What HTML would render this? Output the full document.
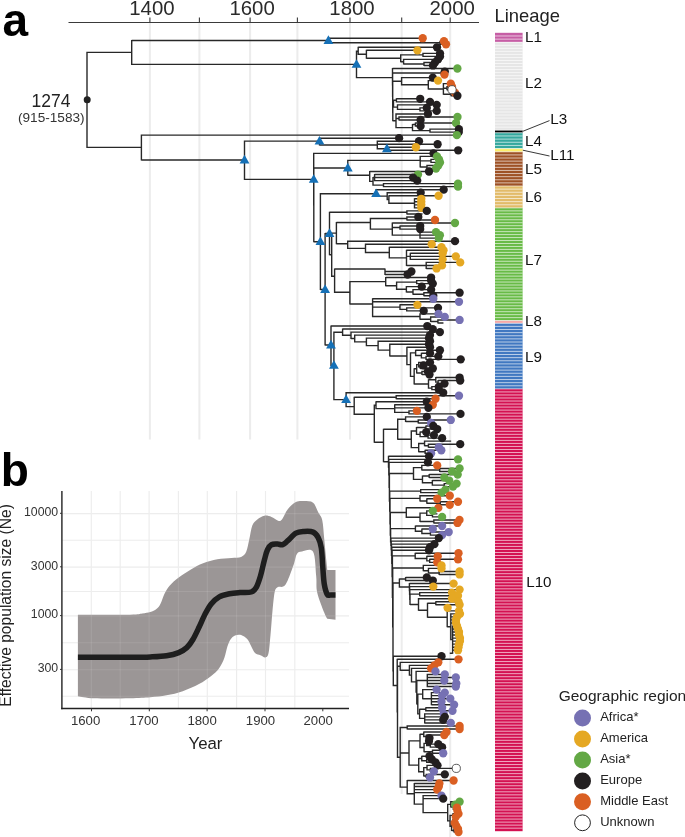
<!DOCTYPE html>
<html><head><meta charset="utf-8"><style>html,body{margin:0;padding:0;background:#fff;width:685px;height:837px;overflow:hidden}</style></head>
<body>
<svg width="685" height="837" viewBox="0 0 685 837" style="display:block;will-change:transform">
<rect width="685" height="837" fill="#fff"/>
<line x1="149.9" y1="23" x2="149.9" y2="439.5" stroke="#ececec" stroke-width="2"/>
<line x1="199.4" y1="23" x2="199.4" y2="439.5" stroke="#ececec" stroke-width="2"/>
<line x1="250.1" y1="23" x2="250.1" y2="439.5" stroke="#ececec" stroke-width="2"/>
<line x1="297.4" y1="23" x2="297.4" y2="439.5" stroke="#ececec" stroke-width="2"/>
<line x1="350" y1="23" x2="350" y2="439.5" stroke="#ececec" stroke-width="2"/>
<line x1="401.7" y1="23" x2="401.7" y2="794" stroke="#ececec" stroke-width="2"/>
<line x1="450.2" y1="23" x2="450.2" y2="837" stroke="#ececec" stroke-width="2"/>
<line x1="68.5" y1="22.5" x2="479" y2="22.5" stroke="#3a3a3a" stroke-width="1.2"/>
<line x1="149.9" y1="17.6" x2="149.9" y2="22.5" stroke="#3a3a3a" stroke-width="1.1"/>
<line x1="199.4" y1="17.6" x2="199.4" y2="22.5" stroke="#3a3a3a" stroke-width="1.1"/>
<line x1="250.1" y1="17.6" x2="250.1" y2="22.5" stroke="#3a3a3a" stroke-width="1.1"/>
<line x1="297.4" y1="17.6" x2="297.4" y2="22.5" stroke="#3a3a3a" stroke-width="1.1"/>
<line x1="350" y1="17.6" x2="350" y2="22.5" stroke="#3a3a3a" stroke-width="1.1"/>
<line x1="401.7" y1="17.6" x2="401.7" y2="22.5" stroke="#3a3a3a" stroke-width="1.1"/>
<line x1="450.2" y1="17.6" x2="450.2" y2="22.5" stroke="#3a3a3a" stroke-width="1.1"/>
<text x="151.9" y="14.9" font-family="'Liberation Sans', sans-serif" font-size="20.4" fill="#2a2a2a" text-anchor="middle">1400</text>
<text x="252.1" y="14.9" font-family="'Liberation Sans', sans-serif" font-size="20.4" fill="#2a2a2a" text-anchor="middle">1600</text>
<text x="352.0" y="14.9" font-family="'Liberation Sans', sans-serif" font-size="20.4" fill="#2a2a2a" text-anchor="middle">1800</text>
<text x="452.2" y="14.9" font-family="'Liberation Sans', sans-serif" font-size="20.4" fill="#2a2a2a" text-anchor="middle">2000</text>
<text x="2.5" y="35.5" font-family="'Liberation Sans', sans-serif" font-size="46" font-weight="bold" fill="#000">a</text>
<path d="M87.00 51.80V148.00M87.00 52.40H131.70M131.70 39.90V65.00M131.70 40.50H328.40M328.40 37.60V43.34M328.40 38.20H422.70M328.40 42.74H440.00M440.00 40.63V44.86M440.00 41.23H444.00M440.00 44.26H446.00M131.70 64.40H356.50M356.50 50.60V78.20M356.50 51.20H358.20M358.20 46.69V54.90M358.20 47.29H437.00M358.20 54.30H366.40M366.40 49.72V58.87M366.40 50.32H417.40M366.40 58.27H400.70M400.70 54.26V62.28M400.70 54.86H423.00M423.00 52.75V56.98M423.00 53.35H440.00M423.00 56.38H440.00M400.70 61.68H403.60M403.60 58.81V64.55M403.60 59.41H438.00M403.60 63.95H424.00M424.00 61.84V66.07M424.00 62.44H435.00M424.00 65.47H433.00M356.50 77.60H392.50M392.50 67.90V85.48M392.50 68.50H457.40M392.50 84.88H392.60M392.60 72.44V97.31M392.60 73.04H441.40M441.40 70.93V75.16M441.40 71.53H444.80M441.40 74.56H444.50M392.60 96.71H392.70M392.70 80.58V112.84M392.70 81.18H401.60M401.60 76.99V85.38M401.60 77.59H432.80M401.60 84.78H428.30M428.30 80.02V89.55M428.30 80.62H438.00M428.30 88.95H443.40M443.40 83.05V94.85M443.40 83.65H450.80M443.40 88.19H447.00M447.00 86.08V90.31M447.00 86.68H452.00M447.00 89.71H452.00M443.40 94.25H451.00M451.00 92.14V96.37M451.00 92.74H455.00M451.00 95.77H457.40M392.70 112.24H392.80M392.80 103.12V121.36M392.80 103.72H393.50M393.50 99.71V107.73M393.50 100.31H396.40M396.40 98.20V102.43M396.40 98.80H420.20M396.40 101.83H430.00M393.50 107.13H397.50M397.50 104.25V110.00M397.50 104.85H436.70M397.50 109.40H420.00M420.00 107.28V111.51M420.00 107.88H426.80M420.00 110.91H436.70M392.80 120.76H396.00M396.00 113.34V128.18M396.00 113.94H428.00M396.00 118.49H399.00M399.00 116.37V120.60M399.00 116.97H457.50M399.00 120.00H420.60M396.00 127.58H412.50M412.50 123.95V131.21M412.50 124.55H415.40M415.40 122.43V126.66M415.40 123.03H456.00M415.40 126.06H420.60M412.50 130.61H430.00M430.00 128.49V132.72M430.00 129.09H458.90M430.00 132.12H458.80M87.00 147.40H141.40M141.40 134.55V160.60M141.40 135.15H456.90M141.40 160.00H244.50M244.50 140.50V180.00M244.50 141.10H319.50M319.50 137.58V145.61M319.50 138.18H399.10M319.50 145.01H377.30M377.30 140.61V149.40M377.30 141.21H419.00M377.30 144.24H437.60M377.30 148.80H386.90M386.90 146.67V150.90M386.90 147.27H415.90M386.90 150.30H458.20M244.50 179.40H313.70M313.70 152.73V205.45M313.70 153.33H433.50M313.70 204.85H313.80M313.80 167.40V242.30M313.80 168.00H347.80M347.80 159.80V175.80M347.80 160.40H420.20M420.20 155.76V167.57M420.20 156.36H437.00M420.20 160.91H431.00M431.00 158.79V163.02M431.00 159.39H439.00M431.00 162.42H440.00M420.20 166.97H427.00M427.00 164.85V169.08M427.00 165.45H438.30M427.00 168.48H436.00M347.80 175.20H369.70M369.70 170.91V181.96M369.70 171.51H429.00M369.70 181.36H373.00M373.00 176.97V185.74M373.00 177.57H374.60M374.60 173.94V181.20M374.60 174.54H418.00M374.60 177.57H413.10M374.60 180.60H417.20M373.00 185.14H383.50M383.50 183.03V187.26M383.50 183.63H458.00M383.50 186.66H458.00M313.80 241.70H320.40M320.40 193.10V290.10M320.40 193.70H376.10M376.10 189.09V196.73M376.10 189.69H443.70M376.10 196.13H387.20M387.20 192.12V200.14M387.20 192.72H420.70M387.20 199.54H388.90M388.90 195.15V203.92M388.90 195.75H438.60M388.90 203.32H414.50M414.50 198.18V208.47M414.50 198.78H421.30M414.50 201.81H421.30M414.50 204.84H421.30M414.50 207.87H421.30M320.40 289.50H325.10M325.10 232.90V345.60M325.10 233.50H329.50M329.50 211.70V255.30M329.50 212.30H406.90M406.90 210.30V214.53M406.90 210.90H426.80M406.90 213.93H422.55M329.50 254.70H331.70M331.70 232.50V276.90M331.70 233.10H336.40M336.40 221.90V244.30M336.40 222.50H370.40M370.40 217.87V229.68M370.40 218.47H406.90M406.90 216.36V220.59M406.90 216.96H418.30M406.90 219.99H435.00M370.40 229.08H392.30M392.30 222.42V235.74M392.30 223.02H455.00M392.30 227.56H400.00M400.00 225.45V229.68M400.00 226.05H420.20M400.00 229.08H420.20M392.30 235.14H420.00M420.00 231.51V238.76M420.00 232.11H436.00M420.00 235.14H439.90M420.00 238.16H438.80M336.40 243.70H347.70M347.70 240.59V248.99M347.70 241.19H455.00M347.70 248.39H365.50M365.50 243.62V253.16M365.50 244.22H431.70M365.50 252.56H389.30M389.30 246.65V258.46M389.30 247.25H441.50M389.30 257.86H406.50M406.50 249.68V266.03M406.50 250.28H443.50M406.50 256.34H410.30M410.30 252.71V259.97M410.30 253.31H442.60M410.30 256.34H455.80M410.30 259.37H442.60M406.50 265.43H426.20M426.20 261.80V269.06M426.20 262.40H460.20M426.20 265.43H442.00M426.20 268.46H436.60M331.70 276.30H334.60M334.60 268.40V292.90M334.60 269.00H385.00M385.00 268.40V275.12M385.00 271.49H411.40M385.00 274.52H407.60M334.60 292.30H349.90M349.90 281.02V304.60M349.90 281.62H385.70M385.70 276.95V286.29M385.70 277.55H431.10M385.70 285.69H396.60M396.60 281.50V289.89M396.60 282.10H416.67M416.67 279.98V284.21M416.67 280.58H431.10M416.67 283.61H432.80M396.60 289.29H406.38M406.38 286.04V292.54M406.38 286.64H421.80M406.38 291.94H412.98M412.98 289.07V294.82M412.98 289.67H431.10M412.98 294.22H423.90M423.90 292.10V296.33M423.90 292.70H459.60M423.90 295.73H433.30M349.90 304.00H372.60M372.60 298.16V317.16M372.60 298.76H433.30M372.60 301.79H459.00M372.60 307.09H400.00M400.00 304.22V309.96M400.00 304.82H417.40M400.00 309.36H406.71M406.71 307.25V311.48M406.71 307.85H438.00M406.71 310.88H423.70M372.60 316.56H420.00M420.00 313.31V319.81M420.00 313.91H438.50M420.00 319.21H430.65M430.65 316.34V322.08M430.65 316.94H444.80M430.65 321.48H437.92M437.92 319.37V323.60M437.92 319.97H459.60M437.92 323.00H443.45M325.10 345.00H331.00M331.00 325.43V366.00M331.00 326.03H427.30M331.00 365.40H333.90M333.90 331.58V400.20M333.90 332.18H342.60M342.60 328.46V335.90M342.60 329.06H432.80M342.60 335.30H351.00M351.00 331.49V339.10M351.00 332.09H439.90M351.00 338.50H354.70M354.70 334.52V342.49M354.70 335.12H430.00M354.70 341.89H366.40M366.40 337.55V346.23M366.40 338.15H429.00M366.40 345.63H378.10M378.10 340.58V350.68M378.10 341.18H430.00M378.10 350.08H389.80M389.80 343.61V356.55M389.80 344.21H429.00M389.80 355.95H406.90M406.90 346.64V365.26M406.90 347.24H430.00M406.90 364.66H410.50M410.50 352.32V377.00M410.50 352.92H415.63M415.63 349.67V356.17M415.63 350.27H439.90M415.63 355.57H421.40M421.40 352.70V358.44M421.40 353.30H430.00M421.40 357.84H426.04M426.04 355.73V359.96M426.04 356.33H438.30M426.04 359.36H460.70M410.50 376.40H414.16M414.16 368.22V384.57M414.16 368.82H416.69M416.69 364.06V373.59M416.69 364.66H418.69M418.69 361.79V367.53M418.69 362.39H430.00M418.69 366.93H420.27M420.27 364.82V369.05M420.27 365.42H423.50M420.27 368.45H432.80M416.69 372.99H421.95M421.95 370.87V375.10M421.95 371.47H427.90M421.95 374.50H429.50M414.16 383.97H428.49M428.49 379.21V388.74M428.49 379.81H435.78M435.78 376.93V382.68M435.78 377.53H459.60M435.78 382.08H438.11M438.11 379.96V384.19M438.11 380.56H460.20M438.11 383.59H444.50M428.49 388.14H431.87M431.87 386.02V390.25M431.87 386.62H438.80M431.87 389.65H438.80M333.90 399.60H346.10M346.10 392.08V407.20M346.10 392.68H443.20M346.10 406.60H354.20M354.20 396.63V414.90M354.20 397.23H396.20M396.20 395.11V399.34M396.20 395.71H459.00M396.20 398.74H435.50M354.20 414.30H374.30M374.30 404.58V442.80M374.30 405.18H376.00M376.00 401.17V409.19M376.00 401.77H426.80M376.00 408.59H394.70M394.70 404.20V412.98M394.70 404.80H432.80M394.70 407.83H428.40M394.70 412.38H409.00M409.00 410.26V414.49M409.00 410.86H416.90M409.00 413.89H460.50M374.30 442.20H383.50M383.50 428.63V462.30M383.50 429.23H397.70M397.70 418.59V439.87M397.70 419.19H405.59M405.59 416.32V422.07M405.59 416.92H426.80M405.59 421.47H418.23M418.23 419.35V423.58M418.23 419.95H450.80M418.23 422.98H431.10M397.70 439.27H411.28M411.28 430.33V448.20M411.28 430.93H416.50M416.50 426.93V434.94M416.50 427.53H425.91M425.91 425.41V429.64M425.91 426.01H433.30M425.91 429.04H437.20M416.50 434.34H420.10M420.10 431.47V437.21M420.10 432.07H426.20M420.10 436.61H428.09M428.09 434.50V438.73M428.09 435.10H433.90M428.09 438.13H442.10M411.28 447.60H418.70M418.70 442.83V452.36M418.70 443.43H424.55M424.55 440.56V446.30M424.55 441.16H451.15M424.55 445.70H428.41M428.41 443.59V447.82M428.41 444.19H460.20M428.41 447.22H438.80M418.70 451.76H425.13M425.13 449.65V453.88M425.13 450.25H441.30M425.13 453.28H431.10M383.50 461.70H388.50M388.50 455.71V467.70M388.50 456.31H429.00M388.50 467.10H388.80M388.80 458.74V475.45M388.80 459.34H458.00M388.80 474.85H389.10M389.10 461.77V487.94M389.10 462.37H427.90M389.10 487.34H389.40M389.40 472.94V501.73M389.40 473.54H413.50M413.50 467.07V480.01M413.50 467.67H421.81M421.81 464.80V470.54M421.81 465.40H437.20M421.81 469.94H439.72M439.72 467.83V472.06M439.72 468.43H459.60M439.72 471.46H452.00M413.50 479.41H422.47M422.47 475.40V483.42M422.47 476.00H429.19M429.19 473.89V478.12M429.19 474.49H457.70M429.19 477.52H444.30M422.47 482.82H432.35M432.35 479.95V485.69M432.35 480.55H449.20M432.35 485.09H444.26M444.26 482.98V487.21M444.26 483.58H456.60M444.26 486.61H453.00M389.40 501.13H389.70M389.70 490.55V511.71M389.70 491.15H420.70M420.70 489.04V493.27M420.70 489.64H445.40M420.70 492.67H441.50M389.70 511.11H390.00M390.00 497.75V524.48M390.00 498.35H420.00M420.00 495.10V501.60M420.00 495.70H449.80M420.00 501.00H426.84M426.84 498.13V503.87M426.84 498.73H437.20M426.84 503.27H440.31M440.31 501.15V505.38M440.31 501.75H458.00M440.31 504.78H449.80M390.00 523.88H390.30M390.30 511.95V535.81M390.30 512.55H406.30M406.30 507.21V517.88M406.30 507.81H438.30M406.30 517.28H420.02M420.02 512.52V522.05M420.02 513.12H426.74M426.74 510.24V515.99M426.74 510.84H432.80M426.74 515.39H432.49M432.49 513.27V517.50M432.49 513.87H437.45M432.49 516.90H442.10M420.02 521.45H433.85M433.85 519.33V523.56M433.85 519.93H459.50M433.85 522.96H457.50M390.30 535.21H390.60M390.60 528.04V542.38M390.60 528.64H415.40M415.40 525.39V531.90M415.40 525.99H442.10M415.40 531.30H421.88M421.88 528.42V534.17M421.88 529.02H432.80M421.88 533.57H430.45M430.45 531.45V535.68M430.45 532.05H448.70M430.45 535.08H442.10M390.60 541.78H390.90M390.90 537.51V546.05M390.90 538.11H438.80M390.90 545.45H391.20M391.20 540.54V550.35M391.20 541.14H436.60M391.20 549.75H391.50M391.50 543.57V555.94M391.50 544.17H434.40M391.50 555.34H391.80M391.80 546.60V564.07M391.80 547.20H430.00M391.80 563.47H392.10M392.10 549.63V577.31M392.10 550.23H429.00M392.10 576.71H392.40M392.40 555.31V598.10M392.40 555.91H415.20M415.20 552.66V559.16M415.20 553.26H458.50M415.20 558.56H426.84M426.84 555.69V561.44M426.84 556.29H437.70M426.84 560.84H429.68M429.68 558.72V562.95M429.68 559.32H458.00M429.68 562.35H437.20M392.40 597.50H392.70M392.70 567.43V627.57M392.70 568.03H423.30M423.30 564.78V571.28M423.30 565.38H441.50M423.30 570.68H428.45M428.45 567.81V573.55M428.45 568.41H441.50M428.45 572.95H439.18M439.18 570.84V575.07M439.18 571.44H459.60M439.18 574.47H459.60M392.70 626.97H393.00M393.00 582.43V671.51M393.00 583.03H399.40M399.40 578.41V587.64M399.40 579.01H405.60M405.60 576.90V581.13M405.60 577.50H426.80M405.60 580.53H432.80M399.40 587.04H409.40M409.40 582.96V591.13M409.40 583.56H453.60M409.40 590.53H409.60M409.60 585.99V595.07M409.60 586.59H433.30M409.60 594.47H409.80M409.80 589.02V599.92M409.80 589.62H459.60M409.80 599.32H410.00M410.00 593.56V605.08M410.00 594.16H419.70M419.70 592.05V596.28M419.70 592.65H452.00M419.70 595.68H458.00M410.00 604.48H418.50M418.50 598.11V610.86M418.50 598.71H452.00M418.50 610.26H427.50M427.50 602.65V617.86M427.50 603.25H435.80M435.80 601.14V605.37M435.80 601.74H458.50M435.80 604.77H459.60M427.50 617.26H447.20M447.20 607.20V627.33M447.20 607.80H447.60M447.20 610.83H459.00M447.20 626.73H450.80M450.80 613.26V640.21M450.80 613.86H460.00M450.80 616.89H457.00M450.80 619.92H456.00M450.80 622.95H456.00M450.80 639.61H452.60M452.60 625.38V653.84M452.60 625.98H457.00M452.60 629.01H458.00M452.60 632.04H459.00M452.60 635.06H459.00M452.60 638.09H460.00M452.60 641.12H460.00M452.60 644.15H459.00M452.60 647.18H458.50M452.60 650.21H458.00M452.60 653.24H449.75M393.00 670.91H393.30M393.30 655.67V686.15M393.30 656.27H441.50M393.30 685.55H397.20M397.20 658.70V712.40M397.20 659.30H458.50M397.20 711.80H397.50M397.50 665.69V757.91M397.50 666.29H400.20M400.20 661.73V670.84M400.20 662.33H438.30M400.20 670.24H409.40M409.40 664.76V675.71M409.40 665.36H434.40M409.40 675.11H411.50M411.50 667.79V682.44M411.50 668.39H431.10M411.50 681.84H416.10M416.10 670.82V692.85M416.10 671.42H435.50M416.10 692.25H416.80M416.80 679.91V704.59M416.80 680.51H427.30M427.30 673.85V687.17M427.30 674.45H444.80M427.30 677.48H455.80M427.30 680.51H444.30M427.30 683.54H456.30M427.30 686.57H455.80M416.80 703.99H417.80M417.80 693.55V714.44M417.80 694.15H422.70M422.70 689.00V699.29M422.70 689.60H436.60M422.70 698.69H431.40M431.40 692.03V705.35M431.40 692.63H444.80M431.40 695.66H442.10M431.40 698.69H450.30M431.40 701.72H441.50M431.40 704.75H454.10M417.80 713.84H419.60M419.60 708.69V718.98M419.60 709.29H425.80M425.80 707.18V711.41M425.80 707.78H442.10M425.80 710.81H452.50M419.60 718.38H424.70M424.70 713.24V723.53M424.70 713.84H443.70M424.70 716.87H444.80M424.70 719.90H443.20M424.70 722.93H450.80M397.50 757.31H400.20M400.20 726.87V787.76M400.20 727.47H407.20M407.20 725.36V729.59M407.20 725.96H459.60M407.20 728.99H459.60M400.20 753.04H409.00M409.00 740.32V765.76M409.00 740.92H420.01M420.01 733.69V748.15M420.01 734.29H423.77M423.77 731.42V737.16M423.77 732.02H446.50M423.77 736.56H426.29M426.29 734.45V738.68M426.29 735.05H444.30M426.29 738.08H429.50M420.01 747.55H424.05M424.05 742.78V752.31M424.05 743.38H426.70M426.70 740.51V746.25M426.70 741.11H429.00M426.70 745.65H430.34M430.34 743.54V747.77M430.34 744.14H438.30M430.34 747.17H442.10M424.05 751.71H432.49M432.49 749.60V753.83M432.49 750.20H442.65M432.49 753.23H443.20M409.00 765.16H418.71M418.71 757.93V772.38M418.71 758.53H421.77M421.77 755.66V761.40M421.77 756.26H429.50M421.77 760.80H426.73M426.73 758.69V762.92M426.73 759.29H431.70M426.73 762.32H435.50M418.71 771.78H423.76M423.76 767.02V776.55M423.76 767.62H427.03M427.03 764.75V770.49M427.03 765.35H437.50M427.03 769.89H430.38M430.38 767.77V772.00M430.38 768.37H456.30M430.38 771.40H433.90M423.76 775.95H426.26M426.26 773.83V778.06M426.26 774.43H444.80M426.26 777.46H430.00M400.20 787.16H407.20M407.20 779.89V794.42M407.20 780.49H453.60M407.20 793.82H414.30M414.30 782.92V804.72M414.30 783.52H439.40M414.30 786.55H438.80M414.30 789.58H437.20M414.30 792.61H439.35M414.30 804.12H423.10M423.10 795.04V813.19M423.10 795.64H441.50M423.10 798.67H443.20M423.10 812.59H447.70M447.70 803.75V821.43M447.70 804.35H450.80M450.80 801.10V807.60M450.80 801.70H459.60M450.80 807.00H453.32M453.32 804.13V809.88M453.32 804.73H455.20M453.32 809.28H454.67M454.67 807.16V811.39M454.67 807.76H456.90M454.67 810.79H457.40M447.70 820.83H450.06M450.06 814.74V826.92M450.06 815.34H452.90M452.90 813.22V817.45M452.90 813.82H458.50M452.90 816.85H455.80M450.06 826.32H451.62M451.62 821.55V831.09M451.62 822.15H452.71M452.71 819.28V825.03M452.71 819.88H455.25M452.71 824.43H453.71M453.71 822.31V826.54M453.71 822.91H454.70M453.71 825.94H456.30M451.62 830.49H453.98M453.98 828.37V832.60M453.98 828.97H458.00M453.98 832.00H458.50" stroke="#282828" stroke-width="1.4" fill="none"/>
<circle cx="87.2" cy="99.7" r="3.5" fill="#222"/>
<text x="51" y="106.6" font-family="'Liberation Sans', sans-serif" font-size="17.5" fill="#222" text-anchor="middle">1274</text>
<text x="51.3" y="121.8" font-family="'Liberation Sans', sans-serif" font-size="13.6" fill="#333" text-anchor="middle">(915-1583)</text>
<path d="M328.40 35.30L333.30 43.90L323.50 43.90Z" fill="#1570b6"/>
<path d="M356.50 59.20L361.40 67.80L351.60 67.80Z" fill="#1570b6"/>
<path d="M244.50 154.80L249.40 163.40L239.60 163.40Z" fill="#1570b6"/>
<path d="M319.50 135.90L324.40 144.50L314.60 144.50Z" fill="#1570b6"/>
<path d="M386.90 143.60L391.80 152.20L382.00 152.20Z" fill="#1570b6"/>
<path d="M313.70 174.20L318.60 182.80L308.80 182.80Z" fill="#1570b6"/>
<path d="M347.80 162.80L352.70 171.40L342.90 171.40Z" fill="#1570b6"/>
<path d="M320.40 236.50L325.30 245.10L315.50 245.10Z" fill="#1570b6"/>
<path d="M376.10 188.50L381.00 197.10L371.20 197.10Z" fill="#1570b6"/>
<path d="M325.10 284.30L330.00 292.90L320.20 292.90Z" fill="#1570b6"/>
<path d="M329.50 228.30L334.40 236.90L324.60 236.90Z" fill="#1570b6"/>
<path d="M331.00 339.80L335.90 348.40L326.10 348.40Z" fill="#1570b6"/>
<path d="M333.90 360.20L338.80 368.80L329.00 368.80Z" fill="#1570b6"/>
<path d="M346.10 394.40L351.00 403.00L341.20 403.00Z" fill="#1570b6"/>
<circle cx="422.70" cy="38.20" r="4.15" fill="#da5f22"/>
<circle cx="444.00" cy="41.23" r="4.15" fill="#da5f22"/>
<circle cx="446.00" cy="44.26" r="4.15" fill="#da5f22"/>
<circle cx="437.00" cy="47.29" r="4.15" fill="#231f20"/>
<circle cx="417.40" cy="50.32" r="4.15" fill="#e5a823"/>
<circle cx="440.00" cy="53.35" r="4.15" fill="#231f20"/>
<circle cx="440.00" cy="56.38" r="4.15" fill="#231f20"/>
<circle cx="438.00" cy="59.41" r="4.15" fill="#231f20"/>
<circle cx="435.00" cy="62.44" r="4.15" fill="#231f20"/>
<circle cx="433.00" cy="65.47" r="4.15" fill="#231f20"/>
<circle cx="457.40" cy="68.50" r="4.15" fill="#63a845"/>
<circle cx="444.80" cy="71.53" r="4.15" fill="#231f20"/>
<circle cx="444.50" cy="74.56" r="4.15" fill="#da5f22"/>
<circle cx="432.80" cy="77.59" r="4.15" fill="#231f20"/>
<circle cx="438.00" cy="80.62" r="4.15" fill="#e5a823"/>
<circle cx="450.80" cy="83.65" r="4.15" fill="#da5f22"/>
<circle cx="452.00" cy="86.68" r="4.15" fill="#da5f22"/>
<circle cx="455.00" cy="92.74" r="4.15" fill="#da5f22"/>
<circle cx="457.40" cy="95.77" r="4.15" fill="#231f20"/>
<circle cx="420.20" cy="98.80" r="4.15" fill="#231f20"/>
<circle cx="430.00" cy="101.83" r="4.15" fill="#231f20"/>
<circle cx="436.70" cy="104.85" r="4.15" fill="#231f20"/>
<circle cx="426.80" cy="107.88" r="4.15" fill="#231f20"/>
<circle cx="436.70" cy="110.91" r="4.15" fill="#231f20"/>
<circle cx="428.00" cy="113.94" r="4.15" fill="#231f20"/>
<circle cx="457.50" cy="116.97" r="4.15" fill="#63a845"/>
<circle cx="420.60" cy="120.00" r="4.15" fill="#231f20"/>
<circle cx="456.00" cy="123.03" r="4.15" fill="#63a845"/>
<circle cx="420.60" cy="126.06" r="4.15" fill="#231f20"/>
<circle cx="458.90" cy="129.09" r="4.15" fill="#231f20"/>
<circle cx="458.80" cy="132.12" r="4.15" fill="#231f20"/>
<circle cx="456.90" cy="135.15" r="4.15" fill="#63a845"/>
<circle cx="399.10" cy="138.18" r="4.15" fill="#231f20"/>
<circle cx="419.00" cy="141.21" r="4.15" fill="#231f20"/>
<circle cx="437.60" cy="144.24" r="4.15" fill="#231f20"/>
<circle cx="415.90" cy="147.27" r="4.15" fill="#e5a823"/>
<circle cx="458.20" cy="150.30" r="4.15" fill="#231f20"/>
<circle cx="433.50" cy="153.33" r="4.15" fill="#231f20"/>
<circle cx="437.00" cy="156.36" r="4.15" fill="#63a845"/>
<circle cx="439.00" cy="159.39" r="4.15" fill="#63a845"/>
<circle cx="440.00" cy="162.42" r="4.15" fill="#63a845"/>
<circle cx="438.30" cy="165.45" r="4.15" fill="#63a845"/>
<circle cx="436.00" cy="168.48" r="4.15" fill="#63a845"/>
<circle cx="429.00" cy="171.51" r="4.15" fill="#231f20"/>
<circle cx="418.00" cy="174.54" r="4.15" fill="#63a845"/>
<circle cx="413.10" cy="177.57" r="4.15" fill="#231f20"/>
<circle cx="417.20" cy="180.60" r="4.15" fill="#231f20"/>
<circle cx="458.00" cy="183.63" r="4.15" fill="#63a845"/>
<circle cx="458.00" cy="186.66" r="4.15" fill="#63a845"/>
<circle cx="443.70" cy="189.69" r="4.15" fill="#231f20"/>
<circle cx="420.70" cy="192.72" r="4.15" fill="#231f20"/>
<circle cx="438.60" cy="195.75" r="4.15" fill="#e5a823"/>
<circle cx="421.30" cy="198.78" r="4.15" fill="#e5a823"/>
<circle cx="421.30" cy="201.81" r="4.15" fill="#e5a823"/>
<circle cx="421.30" cy="204.84" r="4.15" fill="#e5a823"/>
<circle cx="421.30" cy="207.87" r="4.15" fill="#e5a823"/>
<circle cx="426.80" cy="210.90" r="4.15" fill="#231f20"/>
<circle cx="418.30" cy="216.96" r="4.15" fill="#231f20"/>
<circle cx="435.00" cy="219.99" r="4.15" fill="#da5f22"/>
<circle cx="455.00" cy="223.02" r="4.15" fill="#63a845"/>
<circle cx="420.20" cy="226.05" r="4.15" fill="#231f20"/>
<circle cx="420.20" cy="229.08" r="4.15" fill="#231f20"/>
<circle cx="436.00" cy="232.11" r="4.15" fill="#63a845"/>
<circle cx="439.90" cy="235.14" r="4.15" fill="#63a845"/>
<circle cx="438.80" cy="238.16" r="4.15" fill="#63a845"/>
<circle cx="455.00" cy="241.19" r="4.15" fill="#231f20"/>
<circle cx="431.70" cy="244.22" r="4.15" fill="#e5a823"/>
<circle cx="441.50" cy="247.25" r="4.15" fill="#e5a823"/>
<circle cx="443.50" cy="250.28" r="4.15" fill="#e5a823"/>
<circle cx="442.60" cy="253.31" r="4.15" fill="#e5a823"/>
<circle cx="455.80" cy="256.34" r="4.15" fill="#e5a823"/>
<circle cx="442.60" cy="259.37" r="4.15" fill="#e5a823"/>
<circle cx="460.20" cy="262.40" r="4.15" fill="#e5a823"/>
<circle cx="442.00" cy="265.43" r="4.15" fill="#e5a823"/>
<circle cx="436.60" cy="268.46" r="4.15" fill="#e5a823"/>
<circle cx="411.40" cy="271.49" r="4.15" fill="#231f20"/>
<circle cx="407.60" cy="274.52" r="4.15" fill="#231f20"/>
<circle cx="431.10" cy="277.55" r="4.15" fill="#231f20"/>
<circle cx="431.10" cy="280.58" r="4.15" fill="#231f20"/>
<circle cx="432.80" cy="283.61" r="4.15" fill="#231f20"/>
<circle cx="421.80" cy="286.64" r="4.15" fill="#231f20"/>
<circle cx="431.10" cy="289.67" r="4.15" fill="#231f20"/>
<circle cx="459.60" cy="292.70" r="4.15" fill="#231f20"/>
<circle cx="433.30" cy="295.73" r="4.15" fill="#231f20"/>
<circle cx="433.30" cy="298.76" r="4.15" fill="#7671b3"/>
<circle cx="459.00" cy="301.79" r="4.15" fill="#7671b3"/>
<circle cx="417.40" cy="304.82" r="4.15" fill="#e5a823"/>
<circle cx="438.00" cy="307.85" r="4.15" fill="#231f20"/>
<circle cx="423.70" cy="310.88" r="4.15" fill="#231f20"/>
<circle cx="438.50" cy="313.91" r="4.15" fill="#7671b3"/>
<circle cx="444.80" cy="316.94" r="4.15" fill="#7671b3"/>
<circle cx="459.60" cy="319.97" r="4.15" fill="#7671b3"/>
<circle cx="427.30" cy="326.03" r="4.15" fill="#231f20"/>
<circle cx="432.80" cy="329.06" r="4.15" fill="#231f20"/>
<circle cx="439.90" cy="332.09" r="4.15" fill="#231f20"/>
<circle cx="430.00" cy="335.12" r="4.15" fill="#231f20"/>
<circle cx="429.00" cy="338.15" r="4.15" fill="#231f20"/>
<circle cx="430.00" cy="341.18" r="4.15" fill="#231f20"/>
<circle cx="429.00" cy="344.21" r="4.15" fill="#231f20"/>
<circle cx="430.00" cy="347.24" r="4.15" fill="#231f20"/>
<circle cx="439.90" cy="350.27" r="4.15" fill="#231f20"/>
<circle cx="430.00" cy="353.30" r="4.15" fill="#231f20"/>
<circle cx="438.30" cy="356.33" r="4.15" fill="#231f20"/>
<circle cx="460.70" cy="359.36" r="4.15" fill="#231f20"/>
<circle cx="430.00" cy="362.39" r="4.15" fill="#231f20"/>
<circle cx="423.50" cy="365.42" r="4.15" fill="#231f20"/>
<circle cx="432.80" cy="368.45" r="4.15" fill="#231f20"/>
<circle cx="427.90" cy="371.47" r="4.15" fill="#231f20"/>
<circle cx="429.50" cy="374.50" r="4.15" fill="#231f20"/>
<circle cx="459.60" cy="377.53" r="4.15" fill="#231f20"/>
<circle cx="460.20" cy="380.56" r="4.15" fill="#231f20"/>
<circle cx="444.50" cy="383.59" r="4.15" fill="#231f20"/>
<circle cx="438.80" cy="386.62" r="4.15" fill="#231f20"/>
<circle cx="438.80" cy="389.65" r="4.15" fill="#231f20"/>
<circle cx="443.20" cy="392.68" r="4.15" fill="#231f20"/>
<circle cx="459.00" cy="395.71" r="4.15" fill="#7671b3"/>
<circle cx="435.50" cy="398.74" r="4.15" fill="#da5f22"/>
<circle cx="426.80" cy="401.77" r="4.15" fill="#231f20"/>
<circle cx="432.80" cy="404.80" r="4.15" fill="#da5f22"/>
<circle cx="428.40" cy="407.83" r="4.15" fill="#231f20"/>
<circle cx="416.90" cy="410.86" r="4.15" fill="#da5f22"/>
<circle cx="460.50" cy="413.89" r="4.15" fill="#231f20"/>
<circle cx="426.80" cy="416.92" r="4.15" fill="#231f20"/>
<circle cx="450.80" cy="419.95" r="4.15" fill="#7671b3"/>
<circle cx="431.10" cy="422.98" r="4.15" fill="#7671b3"/>
<circle cx="433.30" cy="426.01" r="4.15" fill="#231f20"/>
<circle cx="437.20" cy="429.04" r="4.15" fill="#231f20"/>
<circle cx="426.20" cy="432.07" r="4.15" fill="#231f20"/>
<circle cx="433.90" cy="435.10" r="4.15" fill="#231f20"/>
<circle cx="442.10" cy="438.13" r="4.15" fill="#231f20"/>
<circle cx="460.20" cy="444.19" r="4.15" fill="#231f20"/>
<circle cx="438.80" cy="447.22" r="4.15" fill="#7671b3"/>
<circle cx="441.30" cy="450.25" r="4.15" fill="#7671b3"/>
<circle cx="431.10" cy="453.28" r="4.15" fill="#7671b3"/>
<circle cx="429.00" cy="456.31" r="4.15" fill="#231f20"/>
<circle cx="458.00" cy="459.34" r="4.15" fill="#63a845"/>
<circle cx="427.90" cy="462.37" r="4.15" fill="#231f20"/>
<circle cx="437.20" cy="465.40" r="4.15" fill="#da5f22"/>
<circle cx="459.60" cy="468.43" r="4.15" fill="#63a845"/>
<circle cx="452.00" cy="471.46" r="4.15" fill="#63a845"/>
<circle cx="457.70" cy="474.49" r="4.15" fill="#63a845"/>
<circle cx="444.30" cy="477.52" r="4.15" fill="#63a845"/>
<circle cx="449.20" cy="480.55" r="4.15" fill="#63a845"/>
<circle cx="456.60" cy="483.58" r="4.15" fill="#63a845"/>
<circle cx="453.00" cy="486.61" r="4.15" fill="#63a845"/>
<circle cx="445.40" cy="489.64" r="4.15" fill="#63a845"/>
<circle cx="441.50" cy="492.67" r="4.15" fill="#63a845"/>
<circle cx="449.80" cy="495.70" r="4.15" fill="#da5f22"/>
<circle cx="437.20" cy="498.73" r="4.15" fill="#da5f22"/>
<circle cx="458.00" cy="501.75" r="4.15" fill="#da5f22"/>
<circle cx="449.80" cy="504.78" r="4.15" fill="#da5f22"/>
<circle cx="438.30" cy="507.81" r="4.15" fill="#da5f22"/>
<circle cx="432.80" cy="510.84" r="4.15" fill="#63a845"/>
<circle cx="442.10" cy="516.90" r="4.15" fill="#63a845"/>
<circle cx="459.50" cy="519.93" r="4.15" fill="#da5f22"/>
<circle cx="457.50" cy="522.96" r="4.15" fill="#da5f22"/>
<circle cx="442.10" cy="525.99" r="4.15" fill="#7671b3"/>
<circle cx="432.80" cy="529.02" r="4.15" fill="#7671b3"/>
<circle cx="448.70" cy="532.05" r="4.15" fill="#7671b3"/>
<circle cx="442.10" cy="535.08" r="4.15" fill="#7671b3"/>
<circle cx="438.80" cy="538.11" r="4.15" fill="#231f20"/>
<circle cx="434.40" cy="544.17" r="4.15" fill="#231f20"/>
<circle cx="430.00" cy="547.20" r="4.15" fill="#231f20"/>
<circle cx="429.00" cy="550.23" r="4.15" fill="#231f20"/>
<circle cx="458.50" cy="553.26" r="4.15" fill="#da5f22"/>
<circle cx="437.70" cy="556.29" r="4.15" fill="#da5f22"/>
<circle cx="458.00" cy="559.32" r="4.15" fill="#da5f22"/>
<circle cx="437.20" cy="562.35" r="4.15" fill="#da5f22"/>
<circle cx="441.50" cy="565.38" r="4.15" fill="#e5a823"/>
<circle cx="441.50" cy="568.41" r="4.15" fill="#e5a823"/>
<circle cx="459.60" cy="571.44" r="4.15" fill="#e5a823"/>
<circle cx="459.60" cy="574.47" r="4.15" fill="#e5a823"/>
<circle cx="426.80" cy="577.50" r="4.15" fill="#231f20"/>
<circle cx="432.80" cy="580.53" r="4.15" fill="#231f20"/>
<circle cx="453.60" cy="583.56" r="4.15" fill="#e5a823"/>
<circle cx="433.30" cy="586.59" r="4.15" fill="#e5a823"/>
<circle cx="459.60" cy="589.62" r="4.15" fill="#e5a823"/>
<circle cx="452.00" cy="592.65" r="4.15" fill="#e5a823"/>
<circle cx="458.00" cy="595.68" r="4.15" fill="#e5a823"/>
<circle cx="452.00" cy="598.71" r="4.15" fill="#e5a823"/>
<circle cx="458.50" cy="601.74" r="4.15" fill="#e5a823"/>
<circle cx="459.60" cy="604.77" r="4.15" fill="#e5a823"/>
<circle cx="447.60" cy="607.80" r="4.15" fill="#e5a823"/>
<circle cx="459.00" cy="610.83" r="4.15" fill="#e5a823"/>
<circle cx="460.00" cy="613.86" r="4.15" fill="#e5a823"/>
<circle cx="457.00" cy="616.89" r="4.15" fill="#e5a823"/>
<circle cx="456.00" cy="619.92" r="4.15" fill="#e5a823"/>
<circle cx="456.00" cy="622.95" r="4.15" fill="#e5a823"/>
<circle cx="457.00" cy="625.98" r="4.15" fill="#e5a823"/>
<circle cx="458.00" cy="629.01" r="4.15" fill="#e5a823"/>
<circle cx="459.00" cy="632.04" r="4.15" fill="#e5a823"/>
<circle cx="459.00" cy="635.06" r="4.15" fill="#e5a823"/>
<circle cx="460.00" cy="638.09" r="4.15" fill="#e5a823"/>
<circle cx="460.00" cy="641.12" r="4.15" fill="#e5a823"/>
<circle cx="459.00" cy="644.15" r="4.15" fill="#e5a823"/>
<circle cx="458.50" cy="647.18" r="4.15" fill="#e5a823"/>
<circle cx="458.00" cy="650.21" r="4.15" fill="#e5a823"/>
<circle cx="441.50" cy="656.27" r="4.15" fill="#231f20"/>
<circle cx="458.50" cy="659.30" r="4.15" fill="#da5f22"/>
<circle cx="438.30" cy="662.33" r="4.15" fill="#da5f22"/>
<circle cx="434.40" cy="665.36" r="4.15" fill="#da5f22"/>
<circle cx="431.10" cy="668.39" r="4.15" fill="#da5f22"/>
<circle cx="435.50" cy="671.42" r="4.15" fill="#7671b3"/>
<circle cx="444.80" cy="674.45" r="4.15" fill="#7671b3"/>
<circle cx="455.80" cy="677.48" r="4.15" fill="#7671b3"/>
<circle cx="444.30" cy="680.51" r="4.15" fill="#7671b3"/>
<circle cx="456.30" cy="683.54" r="4.15" fill="#7671b3"/>
<circle cx="455.80" cy="686.57" r="4.15" fill="#7671b3"/>
<circle cx="436.60" cy="689.60" r="4.15" fill="#7671b3"/>
<circle cx="444.80" cy="692.63" r="4.15" fill="#7671b3"/>
<circle cx="442.10" cy="695.66" r="4.15" fill="#7671b3"/>
<circle cx="450.30" cy="698.69" r="4.15" fill="#7671b3"/>
<circle cx="441.50" cy="701.72" r="4.15" fill="#7671b3"/>
<circle cx="454.10" cy="704.75" r="4.15" fill="#7671b3"/>
<circle cx="442.10" cy="707.78" r="4.15" fill="#7671b3"/>
<circle cx="452.50" cy="710.81" r="4.15" fill="#7671b3"/>
<circle cx="443.70" cy="713.84" r="4.15" fill="#7671b3"/>
<circle cx="444.80" cy="716.87" r="4.15" fill="#231f20"/>
<circle cx="443.20" cy="719.90" r="4.15" fill="#231f20"/>
<circle cx="450.80" cy="722.93" r="4.15" fill="#7671b3"/>
<circle cx="459.60" cy="725.96" r="4.15" fill="#da5f22"/>
<circle cx="459.60" cy="728.99" r="4.15" fill="#da5f22"/>
<circle cx="446.50" cy="732.02" r="4.15" fill="#da5f22"/>
<circle cx="444.30" cy="735.05" r="4.15" fill="#da5f22"/>
<circle cx="429.50" cy="738.08" r="4.15" fill="#231f20"/>
<circle cx="429.00" cy="741.11" r="4.15" fill="#231f20"/>
<circle cx="438.30" cy="744.14" r="4.15" fill="#231f20"/>
<circle cx="442.10" cy="747.17" r="4.15" fill="#231f20"/>
<circle cx="443.20" cy="753.23" r="4.15" fill="#7671b3"/>
<circle cx="429.50" cy="756.26" r="4.15" fill="#231f20"/>
<circle cx="431.70" cy="759.29" r="4.15" fill="#231f20"/>
<circle cx="435.50" cy="762.32" r="4.15" fill="#231f20"/>
<circle cx="437.50" cy="765.35" r="4.15" fill="#231f20"/>
<circle cx="433.90" cy="771.40" r="4.15" fill="#7671b3"/>
<circle cx="444.80" cy="774.43" r="4.15" fill="#231f20"/>
<circle cx="430.00" cy="777.46" r="4.15" fill="#7671b3"/>
<circle cx="453.60" cy="780.49" r="4.15" fill="#da5f22"/>
<circle cx="439.40" cy="783.52" r="4.15" fill="#da5f22"/>
<circle cx="438.80" cy="786.55" r="4.15" fill="#da5f22"/>
<circle cx="437.20" cy="789.58" r="4.15" fill="#da5f22"/>
<circle cx="441.50" cy="795.64" r="4.15" fill="#7671b3"/>
<circle cx="443.20" cy="798.67" r="4.15" fill="#231f20"/>
<circle cx="459.60" cy="801.70" r="4.15" fill="#63a845"/>
<circle cx="455.20" cy="804.73" r="4.15" fill="#63a845"/>
<circle cx="456.90" cy="807.76" r="4.15" fill="#da5f22"/>
<circle cx="457.40" cy="810.79" r="4.15" fill="#da5f22"/>
<circle cx="458.50" cy="813.82" r="4.15" fill="#da5f22"/>
<circle cx="455.80" cy="816.85" r="4.15" fill="#da5f22"/>
<circle cx="454.70" cy="822.91" r="4.15" fill="#da5f22"/>
<circle cx="456.30" cy="825.94" r="4.15" fill="#da5f22"/>
<circle cx="458.00" cy="828.97" r="4.15" fill="#da5f22"/>
<circle cx="458.50" cy="832.00" r="4.15" fill="#da5f22"/>
<circle cx="452.00" cy="89.71" r="4.1" fill="#fff" stroke="#333" stroke-width="0.8"/>
<circle cx="456.30" cy="768.37" r="4.1" fill="#fff" stroke="#333" stroke-width="0.8"/>
<rect x="495" y="32.80" width="27.6" height="9.50" fill="#c65ea5"/>
<rect x="495" y="42.30" width="27.6" height="87.90" fill="#e6e6e6"/>
<rect x="495" y="130.20" width="27.6" height="2.60" fill="#000000"/>
<rect x="495" y="132.80" width="27.6" height="15.80" fill="#35a89e"/>
<rect x="495" y="148.60" width="27.6" height="3.20" fill="#fdef6b"/>
<rect x="495" y="151.80" width="27.6" height="34.20" fill="#9e5226"/>
<rect x="495" y="186.00" width="27.6" height="21.90" fill="#e2bb69"/>
<rect x="495" y="207.90" width="27.6" height="112.70" fill="#68bb46"/>
<rect x="495" y="320.60" width="27.6" height="2.65" fill="#f4a3a3"/>
<rect x="495" y="323.25" width="27.6" height="65.65" fill="#4078c1"/>
<rect x="495" y="388.90" width="27.6" height="442.30" fill="#d41152"/>
<path d="M495 35.97H522.6M495 39.13H522.6M495 42.30H522.6M495 45.33H522.6M495 48.36H522.6M495 51.39H522.6M495 54.42H522.6M495 57.46H522.6M495 60.49H522.6M495 63.52H522.6M495 66.55H522.6M495 69.58H522.6M495 72.61H522.6M495 75.64H522.6M495 78.67H522.6M495 81.70H522.6M495 84.73H522.6M495 87.77H522.6M495 90.80H522.6M495 93.83H522.6M495 96.86H522.6M495 99.89H522.6M495 102.92H522.6M495 105.95H522.6M495 108.98H522.6M495 112.01H522.6M495 115.04H522.6M495 118.08H522.6M495 121.11H522.6M495 124.14H522.6M495 127.17H522.6M495 130.20H522.6M495 132.80H522.6M495 135.96H522.6M495 139.12H522.6M495 142.28H522.6M495 145.44H522.6M495 148.60H522.6M495 151.80H522.6M495 154.91H522.6M495 158.02H522.6M495 161.13H522.6M495 164.24H522.6M495 167.35H522.6M495 170.45H522.6M495 173.56H522.6M495 176.67H522.6M495 179.78H522.6M495 182.89H522.6M495 186.00H522.6M495 189.13H522.6M495 192.26H522.6M495 195.39H522.6M495 198.51H522.6M495 201.64H522.6M495 204.77H522.6M495 207.90H522.6M495 210.87H522.6M495 213.83H522.6M495 216.80H522.6M495 219.76H522.6M495 222.73H522.6M495 225.69H522.6M495 228.66H522.6M495 231.63H522.6M495 234.59H522.6M495 237.56H522.6M495 240.52H522.6M495 243.49H522.6M495 246.46H522.6M495 249.42H522.6M495 252.39H522.6M495 255.35H522.6M495 258.32H522.6M495 261.28H522.6M495 264.25H522.6M495 267.22H522.6M495 270.18H522.6M495 273.15H522.6M495 276.11H522.6M495 279.08H522.6M495 282.04H522.6M495 285.01H522.6M495 287.98H522.6M495 290.94H522.6M495 293.91H522.6M495 296.87H522.6M495 299.84H522.6M495 302.81H522.6M495 305.77H522.6M495 308.74H522.6M495 311.70H522.6M495 314.67H522.6M495 317.63H522.6M495 320.60H522.6M495 323.25H522.6M495 326.38H522.6M495 329.50H522.6M495 332.63H522.6M495 335.75H522.6M495 338.88H522.6M495 342.01H522.6M495 345.13H522.6M495 348.26H522.6M495 351.39H522.6M495 354.51H522.6M495 357.64H522.6M495 360.76H522.6M495 363.89H522.6M495 367.02H522.6M495 370.14H522.6M495 373.27H522.6M495 376.40H522.6M495 379.52H522.6M495 382.65H522.6M495 385.77H522.6M495 388.90H522.6M495 391.93H522.6M495 394.96H522.6M495 397.99H522.6M495 401.02H522.6M495 404.05H522.6M495 407.08H522.6M495 410.11H522.6M495 413.14H522.6M495 416.17H522.6M495 419.19H522.6M495 422.22H522.6M495 425.25H522.6M495 428.28H522.6M495 431.31H522.6M495 434.34H522.6M495 437.37H522.6M495 440.40H522.6M495 443.43H522.6M495 446.46H522.6M495 449.49H522.6M495 452.52H522.6M495 455.55H522.6M495 458.58H522.6M495 461.61H522.6M495 464.64H522.6M495 467.67H522.6M495 470.70H522.6M495 473.72H522.6M495 476.75H522.6M495 479.78H522.6M495 482.81H522.6M495 485.84H522.6M495 488.87H522.6M495 491.90H522.6M495 494.93H522.6M495 497.96H522.6M495 500.99H522.6M495 504.02H522.6M495 507.05H522.6M495 510.08H522.6M495 513.11H522.6M495 516.14H522.6M495 519.17H522.6M495 522.20H522.6M495 525.23H522.6M495 528.25H522.6M495 531.28H522.6M495 534.31H522.6M495 537.34H522.6M495 540.37H522.6M495 543.40H522.6M495 546.43H522.6M495 549.46H522.6M495 552.49H522.6M495 555.52H522.6M495 558.55H522.6M495 561.58H522.6M495 564.61H522.6M495 567.64H522.6M495 570.67H522.6M495 573.70H522.6M495 576.73H522.6M495 579.76H522.6M495 582.78H522.6M495 585.81H522.6M495 588.84H522.6M495 591.87H522.6M495 594.90H522.6M495 597.93H522.6M495 600.96H522.6M495 603.99H522.6M495 607.02H522.6M495 610.05H522.6M495 613.08H522.6M495 616.11H522.6M495 619.14H522.6M495 622.17H522.6M495 625.20H522.6M495 628.23H522.6M495 631.26H522.6M495 634.29H522.6M495 637.32H522.6M495 640.34H522.6M495 643.37H522.6M495 646.40H522.6M495 649.43H522.6M495 652.46H522.6M495 655.49H522.6M495 658.52H522.6M495 661.55H522.6M495 664.58H522.6M495 667.61H522.6M495 670.64H522.6M495 673.67H522.6M495 676.70H522.6M495 679.73H522.6M495 682.76H522.6M495 685.79H522.6M495 688.82H522.6M495 691.85H522.6M495 694.87H522.6M495 697.90H522.6M495 700.93H522.6M495 703.96H522.6M495 706.99H522.6M495 710.02H522.6M495 713.05H522.6M495 716.08H522.6M495 719.11H522.6M495 722.14H522.6M495 725.17H522.6M495 728.20H522.6M495 731.23H522.6M495 734.26H522.6M495 737.29H522.6M495 740.32H522.6M495 743.35H522.6M495 746.38H522.6M495 749.40H522.6M495 752.43H522.6M495 755.46H522.6M495 758.49H522.6M495 761.52H522.6M495 764.55H522.6M495 767.58H522.6M495 770.61H522.6M495 773.64H522.6M495 776.67H522.6M495 779.70H522.6M495 782.73H522.6M495 785.76H522.6M495 788.79H522.6M495 791.82H522.6M495 794.85H522.6M495 797.88H522.6M495 800.91H522.6M495 803.93H522.6M495 806.96H522.6M495 809.99H522.6M495 813.02H522.6M495 816.05H522.6M495 819.08H522.6M495 822.11H522.6M495 825.14H522.6M495 828.17H522.6" stroke="#fff" stroke-width="0.85" stroke-opacity="0.75" fill="none"/>
<text x="494.5" y="21.9" font-family="'Liberation Sans', sans-serif" font-size="18.4" fill="#222">Lineage</text>
<text x="525.0" y="42.1" font-family="'Liberation Sans', sans-serif" font-size="15.2" fill="#111">L1</text>
<text x="525.0" y="87.9" font-family="'Liberation Sans', sans-serif" font-size="15.2" fill="#111">L2</text>
<text x="550.3" y="124.2" font-family="'Liberation Sans', sans-serif" font-size="15.2" fill="#111">L3</text>
<text x="525.0" y="146" font-family="'Liberation Sans', sans-serif" font-size="15.2" fill="#111">L4</text>
<text x="550.3" y="159.7" font-family="'Liberation Sans', sans-serif" font-size="15.2" fill="#111">L11</text>
<text x="525.0" y="173.9" font-family="'Liberation Sans', sans-serif" font-size="15.2" fill="#111">L5</text>
<text x="525.0" y="202.3" font-family="'Liberation Sans', sans-serif" font-size="15.2" fill="#111">L6</text>
<text x="525.0" y="265.1" font-family="'Liberation Sans', sans-serif" font-size="15.2" fill="#111">L7</text>
<text x="525.0" y="325.7" font-family="'Liberation Sans', sans-serif" font-size="15.2" fill="#111">L8</text>
<text x="525.0" y="362" font-family="'Liberation Sans', sans-serif" font-size="15.2" fill="#111">L9</text>
<text x="526.2" y="587.4" font-family="'Liberation Sans', sans-serif" font-size="15.2" fill="#111">L10</text>
<line x1="522.8" y1="131.3" x2="549.5" y2="120.6" stroke="#222" stroke-width="0.9"/>
<line x1="522.8" y1="150.2" x2="549.5" y2="156" stroke="#222" stroke-width="0.9"/>
<text x="0.8" y="485.5" font-family="'Liberation Sans', sans-serif" font-size="46" font-weight="bold" fill="#000">b</text>
<line x1="62" y1="513.6" x2="349" y2="513.6" stroke="#ebebeb" stroke-width="1.1"/>
<line x1="62" y1="540.2" x2="349" y2="540.2" stroke="#ebebeb" stroke-width="1.1"/>
<line x1="62" y1="567.1" x2="349" y2="567.1" stroke="#ebebeb" stroke-width="1.1"/>
<line x1="62" y1="591.5" x2="349" y2="591.5" stroke="#ebebeb" stroke-width="1.1"/>
<line x1="62" y1="615.9" x2="349" y2="615.9" stroke="#ebebeb" stroke-width="1.1"/>
<line x1="62" y1="642.7" x2="349" y2="642.7" stroke="#ebebeb" stroke-width="1.1"/>
<line x1="62" y1="669.7" x2="349" y2="669.7" stroke="#ebebeb" stroke-width="1.1"/>
<line x1="62" y1="696.3" x2="349" y2="696.3" stroke="#ebebeb" stroke-width="1.1"/>
<line x1="91.3" y1="491" x2="91.3" y2="708.5" stroke="#ebebeb" stroke-width="1.1"/>
<line x1="120.2" y1="491" x2="120.2" y2="708.5" stroke="#ebebeb" stroke-width="1.1"/>
<line x1="149.1" y1="491" x2="149.1" y2="708.5" stroke="#ebebeb" stroke-width="1.1"/>
<line x1="178.4" y1="491" x2="178.4" y2="708.5" stroke="#ebebeb" stroke-width="1.1"/>
<line x1="207.3" y1="491" x2="207.3" y2="708.5" stroke="#ebebeb" stroke-width="1.1"/>
<line x1="236.6" y1="491" x2="236.6" y2="708.5" stroke="#ebebeb" stroke-width="1.1"/>
<line x1="265.5" y1="491" x2="265.5" y2="708.5" stroke="#ebebeb" stroke-width="1.1"/>
<line x1="294.8" y1="491" x2="294.8" y2="708.5" stroke="#ebebeb" stroke-width="1.1"/>
<path d="M77.9 614.8 C86.6 614.8 119.3 614.9 130.0 614.7 C140.7 614.5 138.8 614.0 142.2 613.5 C145.6 613.0 147.9 612.8 150.3 612.0 C152.7 611.2 154.7 610.4 156.4 609.0 C158.1 607.6 159.1 606.4 160.4 603.9 C161.8 601.4 163.0 596.8 164.5 593.8 C166.0 590.8 167.2 588.4 169.6 585.7 C172.0 583.0 175.1 580.2 178.7 577.5 C182.2 574.8 186.8 571.8 190.9 569.4 C195.0 567.0 198.7 565.0 203.1 563.3 C207.5 561.6 212.6 560.2 217.3 559.3 C222.0 558.4 227.5 558.3 231.5 557.9 C235.5 557.5 238.7 557.9 241.1 556.9 C243.5 555.9 244.8 554.7 246.2 551.8 C247.5 548.9 248.2 544.1 249.2 539.7 C250.2 535.3 251.0 528.8 252.3 525.4 C253.7 522.0 255.3 521.0 257.3 519.4 C259.3 517.8 262.0 516.1 264.4 515.7 C266.8 515.3 269.3 516.1 271.5 516.9 C273.7 517.7 275.9 519.9 277.6 520.4 C279.3 520.9 280.0 521.7 281.7 519.8 C283.4 517.9 285.4 512.1 287.8 509.2 C290.2 506.2 293.2 503.5 295.9 502.1 C298.6 500.8 301.1 501.0 304.0 501.1 C306.9 501.2 310.7 500.8 313.1 502.7 C315.5 504.6 316.7 509.3 318.2 512.3 C319.7 515.2 321.3 515.8 322.3 520.4 C323.3 525.0 323.5 531.4 324.3 539.7 C325.1 548.0 326.8 565.0 327.3 570.1 L335.5 570.1 L335.5 619.8 L327.3 618.8 C326.8 617.8 326.0 617.1 324.3 612.7 C322.6 608.3 318.6 598.5 317.2 592.4 C315.8 586.3 316.9 583.0 316.2 576.2 C315.5 569.4 315.5 555.9 313.1 551.8 C310.7 547.7 304.7 551.0 302.0 551.4 C299.3 551.8 298.2 551.8 296.9 553.9 C295.5 556.0 295.4 559.6 293.9 564.0 C292.4 568.4 289.5 576.5 287.8 580.2 C286.1 583.9 285.4 585.1 283.7 586.3 C282.0 587.5 279.1 586.3 277.6 587.3 C276.1 588.3 275.5 588.5 274.6 592.4 C273.8 596.3 273.2 603.6 272.5 610.7 C271.8 617.8 271.2 627.9 270.5 635.0 C269.8 642.1 269.4 649.6 268.5 653.3 C267.6 657.0 266.8 657.1 265.4 657.4 C264.0 657.7 262.1 656.0 260.4 655.3 C258.7 654.6 256.8 654.8 255.3 653.3 C253.8 651.8 252.5 648.6 251.2 646.2 C249.8 643.8 248.9 641.0 247.2 639.1 C245.5 637.2 243.1 635.6 241.1 635.0 C239.1 634.4 236.8 634.8 235.0 635.5 C233.2 636.2 231.8 637.6 230.5 639.5 C229.2 641.4 228.4 643.6 227.4 646.6 C226.4 649.6 225.8 654.2 224.4 657.7 C223.1 661.2 221.5 664.9 219.3 667.9 C217.1 670.9 214.6 673.3 211.2 676.0 C207.8 678.7 203.7 681.6 199.0 684.1 C194.3 686.6 188.2 689.3 182.8 691.2 C177.4 693.1 171.9 694.3 166.5 695.3 C161.1 696.3 156.4 696.8 150.3 697.3 C144.2 697.8 139.4 698.1 130.0 698.3 C120.6 698.5 102.8 698.6 94.1 698.3 C85.4 697.9 80.6 696.6 77.9 696.2 Z" fill="#9b9696"/>
<line x1="62" y1="513.6" x2="349" y2="513.6" stroke="#fff" stroke-opacity="0.1" stroke-width="1.1"/>
<line x1="62" y1="540.2" x2="349" y2="540.2" stroke="#fff" stroke-opacity="0.1" stroke-width="1.1"/>
<line x1="62" y1="567.1" x2="349" y2="567.1" stroke="#fff" stroke-opacity="0.1" stroke-width="1.1"/>
<line x1="62" y1="591.5" x2="349" y2="591.5" stroke="#fff" stroke-opacity="0.1" stroke-width="1.1"/>
<line x1="62" y1="615.9" x2="349" y2="615.9" stroke="#fff" stroke-opacity="0.1" stroke-width="1.1"/>
<line x1="62" y1="642.7" x2="349" y2="642.7" stroke="#fff" stroke-opacity="0.1" stroke-width="1.1"/>
<line x1="62" y1="669.7" x2="349" y2="669.7" stroke="#fff" stroke-opacity="0.1" stroke-width="1.1"/>
<line x1="62" y1="696.3" x2="349" y2="696.3" stroke="#fff" stroke-opacity="0.1" stroke-width="1.1"/>
<line x1="91.3" y1="491" x2="91.3" y2="708.5" stroke="#fff" stroke-opacity="0.1" stroke-width="1.1"/>
<line x1="120.2" y1="491" x2="120.2" y2="708.5" stroke="#fff" stroke-opacity="0.1" stroke-width="1.1"/>
<line x1="149.1" y1="491" x2="149.1" y2="708.5" stroke="#fff" stroke-opacity="0.1" stroke-width="1.1"/>
<line x1="178.4" y1="491" x2="178.4" y2="708.5" stroke="#fff" stroke-opacity="0.1" stroke-width="1.1"/>
<line x1="207.3" y1="491" x2="207.3" y2="708.5" stroke="#fff" stroke-opacity="0.1" stroke-width="1.1"/>
<line x1="236.6" y1="491" x2="236.6" y2="708.5" stroke="#fff" stroke-opacity="0.1" stroke-width="1.1"/>
<line x1="265.5" y1="491" x2="265.5" y2="708.5" stroke="#fff" stroke-opacity="0.1" stroke-width="1.1"/>
<line x1="294.8" y1="491" x2="294.8" y2="708.5" stroke="#fff" stroke-opacity="0.1" stroke-width="1.1"/>
<path d="M77.9 657.3 C86.6 657.3 117.9 657.4 130.0 657.3 C142.1 657.2 144.2 657.2 150.3 656.9 C156.4 656.6 161.8 656.4 166.5 655.7 C171.2 655.0 175.3 654.0 178.7 652.6 C182.1 651.2 184.4 649.8 186.8 647.6 C189.2 645.4 190.9 642.9 192.9 639.5 C194.9 636.1 197.0 631.5 199.0 627.3 C201.0 623.1 203.1 618.0 205.1 614.1 C207.1 610.2 208.8 606.8 211.2 603.9 C213.6 601.0 216.2 598.5 219.3 596.8 C222.4 595.1 226.1 594.5 229.5 593.8 C232.9 593.1 236.4 592.9 240.0 592.6 C243.6 592.3 248.5 592.9 251.2 592.0 C253.9 591.1 254.8 589.9 256.3 587.3 C257.8 584.7 259.0 580.8 260.4 576.2 C261.8 571.7 263.2 564.4 264.4 560.0 C265.6 555.6 266.3 552.3 267.5 549.8 C268.7 547.2 269.8 545.7 271.5 544.7 C273.2 543.8 275.7 544.1 277.6 544.1 C279.5 544.1 281.0 545.3 282.7 544.7 C284.4 544.1 285.6 542.6 287.8 540.7 C290.0 538.8 293.2 534.7 295.9 533.2 C298.6 531.7 301.1 531.7 304.0 531.5 C306.9 531.3 310.7 531.1 313.1 532.1 C315.5 533.1 316.8 535.0 318.2 537.6 C319.6 540.2 320.6 543.1 321.3 547.8 C322.1 552.5 322.2 559.9 322.7 566.0 C323.2 572.1 323.5 579.5 324.3 584.3 C325.1 589.0 326.2 592.7 327.3 594.5 C328.4 596.3 329.6 594.8 331.0 594.9 C332.4 595.0 334.8 594.9 335.5 594.9" stroke="#1e1e1e" stroke-width="5.5" fill="none" stroke-linejoin="round"/>
<line x1="61.9" y1="491" x2="61.9" y2="709.2" stroke="#222" stroke-width="1.4"/>
<line x1="61.2" y1="708.5" x2="349" y2="708.5" stroke="#222" stroke-width="1.4"/>
<line x1="60" y1="513.3" x2="62" y2="513.3" stroke="#333" stroke-width="1"/>
<text x="58.2" y="516.0" font-family="'Liberation Sans', sans-serif" font-size="12.3" fill="#333" text-anchor="end">10000</text>
<line x1="60" y1="566.8" x2="62" y2="566.8" stroke="#333" stroke-width="1"/>
<text x="58.2" y="569.5" font-family="'Liberation Sans', sans-serif" font-size="12.3" fill="#333" text-anchor="end">3000</text>
<line x1="60" y1="615.6" x2="62" y2="615.6" stroke="#333" stroke-width="1"/>
<text x="58.2" y="618.3000000000001" font-family="'Liberation Sans', sans-serif" font-size="12.3" fill="#333" text-anchor="end">1000</text>
<line x1="60" y1="669.4" x2="62" y2="669.4" stroke="#333" stroke-width="1"/>
<text x="58.2" y="672.1" font-family="'Liberation Sans', sans-serif" font-size="12.3" fill="#333" text-anchor="end">300</text>
<line x1="91.5" y1="708.5" x2="91.5" y2="711.3" stroke="#333" stroke-width="1"/>
<line x1="149.3" y1="708.5" x2="149.3" y2="711.3" stroke="#333" stroke-width="1"/>
<line x1="207.1" y1="708.5" x2="207.1" y2="711.3" stroke="#333" stroke-width="1"/>
<line x1="265" y1="708.5" x2="265" y2="711.3" stroke="#333" stroke-width="1"/>
<line x1="322.8" y1="708.5" x2="322.8" y2="711.3" stroke="#333" stroke-width="1"/>
<text x="85.6" y="725" font-family="'Liberation Sans', sans-serif" font-size="13.2" fill="#333" text-anchor="middle">1600</text>
<text x="144" y="725" font-family="'Liberation Sans', sans-serif" font-size="13.2" fill="#333" text-anchor="middle">1700</text>
<text x="202.1" y="725" font-family="'Liberation Sans', sans-serif" font-size="13.2" fill="#333" text-anchor="middle">1800</text>
<text x="260.5" y="725" font-family="'Liberation Sans', sans-serif" font-size="13.2" fill="#333" text-anchor="middle">1900</text>
<text x="318.2" y="725" font-family="'Liberation Sans', sans-serif" font-size="13.2" fill="#333" text-anchor="middle">2000</text>
<text x="205.5" y="749.4" font-family="'Liberation Sans', sans-serif" font-size="16.8" fill="#222" text-anchor="middle">Year</text>
<text transform="translate(11.3 605.4) rotate(-90)" font-family="'Liberation Sans', sans-serif" font-size="15.6" fill="#222" text-anchor="middle">Effective population size (Ne)</text>
<text x="558.7" y="700.6" font-family="'Liberation Sans', sans-serif" font-size="15.5" fill="#222">Geographic region</text>
<circle cx="582.5" cy="718.0" r="8.5" fill="#7671b3"/>
<text x="600.2" y="721.2" font-family="'Liberation Sans', sans-serif" font-size="13" fill="#222">Africa*</text>
<circle cx="582.5" cy="739.0" r="8.5" fill="#e5a823"/>
<text x="600.2" y="742.2" font-family="'Liberation Sans', sans-serif" font-size="13" fill="#222">America</text>
<circle cx="582.5" cy="759.9" r="8.5" fill="#63a845"/>
<text x="600.2" y="763.1" font-family="'Liberation Sans', sans-serif" font-size="13" fill="#222">Asia*</text>
<circle cx="582.5" cy="780.9" r="8.5" fill="#231f20"/>
<text x="600.2" y="784.1" font-family="'Liberation Sans', sans-serif" font-size="13" fill="#222">Europe</text>
<circle cx="582.5" cy="801.8" r="8.5" fill="#da5f22"/>
<text x="600.2" y="805.0" font-family="'Liberation Sans', sans-serif" font-size="13" fill="#222">Middle East</text>
<circle cx="582.5" cy="822.8" r="7.9" fill="#fff" stroke="#222" stroke-width="1"/>
<text x="600.2" y="826.0" font-family="'Liberation Sans', sans-serif" font-size="13" fill="#222">Unknown</text>
</svg>
</body></html>
